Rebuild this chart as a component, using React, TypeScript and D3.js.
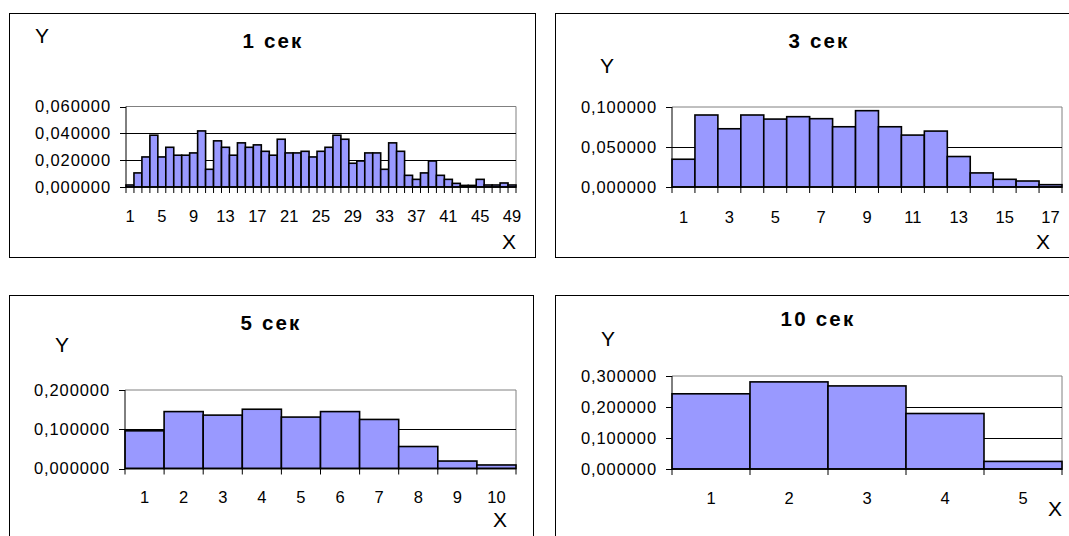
import React from "react";
import * as d3 from "d3";

// ---------- data ----------
const cats1 = [1,2,3,4,5,6,7,8,9,10,11,12,13,14,15,16,17,18,19,20,21,22,23,24,25,26,27,28,29,30,31,32,33,34,35,36,37,38,39,40,41,42,43,44,45,46,47,48,49];
const vals1 = [0.0015,0.0105,0.0224,0.0386,0.0224,0.0296,0.0237,0.0237,0.0254,0.0418,0.0132,0.0344,0.0296,0.0237,0.0329,0.0296,0.0314,0.0266,0.0237,0.0356,0.0254,0.0254,0.0266,0.0224,0.0266,0.0296,0.0386,0.0356,0.0177,0.0194,0.0254,0.0254,0.0132,0.0329,0.0266,0.0087,0.0057,0.0105,0.0194,0.0087,0.0057,0.0027,0.0012,0.0012,0.0057,0.0015,0.0015,0.003,0.0015];
const ticks1 = [0, 0.02, 0.04, 0.06];

const cats2 = [1,2,3,4,5,6,7,8,9,10,11,12,13,14,15,16,17];
const vals2 = [0.0347,0.090,0.0728,0.090,0.0849,0.0879,0.0854,0.0753,0.0954,0.0753,0.0649,0.0699,0.0381,0.0176,0.0096,0.0075,0.0029];
const ticks2 = [0, 0.05, 0.1];

const cats3 = [1,2,3,4,5,6,7,8,9,10];
const vals3 = [0.096,0.145,0.136,0.151,0.131,0.145,0.125,0.056,0.019,0.009];
const ticks3 = [0, 0.1, 0.2];

const cats4 = [1,2,3,4,5];
const vals4 = [0.2426,0.281,0.268,0.179,0.0245];
const ticks4 = [0, 0.1, 0.2, 0.3];

const titles = ["1 сек", "3 сек", "5 сек", "10 сек"];

// ---------- chart ----------
const FONT = "'Liberation Sans', Arial, sans-serif";
const fmt = (v: number) => v.toFixed(6).replace(".", ",");

type ChartProps = {
  frame: [number, number, number, number];
  plot: [number, number, number, number]; // left, right, bottom(y0), top(yMax)
  cats: number[];
  vals: number[];
  ticks: number[];
  labelEvery: number;
  title: string;
  titlePos: [number, number];
  yPos: [number, number];
  xPos: [number, number];
  xLabelY: number;
};

function Chart(p: ChartProps) {
  const [fx, fy, fw, fh] = p.frame;
  const [l, r, b, t] = p.plot;
  const yMax = p.ticks[p.ticks.length - 1];
  const x = d3.scaleBand<number>().domain(p.cats).range([l, r]).padding(0);
  const y = d3.scaleLinear().domain([0, yMax]).range([b, t]);
  const bw = x.bandwidth();
  return (
    <g>
      <rect x={fx + 0.5} y={fy + 0.5} width={fw} height={fh} fill="#fff" stroke="#000" strokeWidth={1} />
      {/* plot border */}
      <line x1={l} x2={r} y1={y(yMax)} y2={y(yMax)} stroke="#808080" strokeWidth={1} />
      <line x1={r} x2={r} y1={y(yMax)} y2={b} stroke="#808080" strokeWidth={1} />
      {/* grid */}
      {p.ticks.slice(1, -1).map((v) => (
        <line key={"g" + v} x1={l} x2={r} y1={Math.round(y(v)) + 0.5} y2={Math.round(y(v)) + 0.5} stroke="#000" strokeWidth={1} />
      ))}
      {/* bars */}
      {p.cats.map((c, i) => (
        <rect key={"b" + c} x={x(c)} y={y(p.vals[i])} width={bw} height={b - y(p.vals[i])} fill="#9999FF" stroke="#000" strokeWidth={1.6} />
      ))}
      {/* y axis */}
      <line x1={l} x2={l} y1={y(yMax)} y2={b} stroke="#000" strokeWidth={1} />
      {p.ticks.map((v) => (
        <g key={"yt" + v}>
          <line x1={l - 6} x2={l} y1={Math.round(y(v)) + 0.5} y2={Math.round(y(v)) + 0.5} stroke="#000" strokeWidth={1} />
          <text x={l - 15} y={y(v) + 5.5} textAnchor="end" fontFamily={FONT} fontSize={16.5} letterSpacing={0.9} fill="#000">{fmt(v)}</text>
        </g>
      ))}
      {/* x axis */}
      <line x1={l} x2={r} y1={b} y2={b} stroke="#000" strokeWidth={1.5} />
      {p.cats.concat([p.cats.length + 1]).map((c, i) => {
        const xx = l + i * bw;
        return <line key={"xt" + i} x1={xx} x2={xx} y1={b} y2={b + 6} stroke="#000" strokeWidth={1} />;
      })}
      {p.cats.map((c, i) =>
        i % p.labelEvery === 0 ? (
          <text key={"xl" + c} x={(x(c) as number) + bw / 2} y={p.xLabelY} textAnchor="middle" fontFamily={FONT} fontSize={16.5} fill="#000">{c}</text>
        ) : null
      )}
      <text x={p.titlePos[0]} y={p.titlePos[1]} textAnchor="middle" fontFamily={FONT} fontSize={20.5} fontWeight="bold" letterSpacing={2.2} fill="#000">{p.title}</text>
      <text x={p.yPos[0]} y={p.yPos[1]} textAnchor="middle" fontFamily={FONT} fontSize={21} fill="#000">Y</text>
      <text x={p.xPos[0]} y={p.xPos[1]} textAnchor="middle" fontFamily={FONT} fontSize={21} fill="#000">X</text>
    </g>
  );
}

export default function App() {
  return (
    <svg width={1069} height={536} style={{ position: "absolute", left: 0, top: 0, background: "#fff" }}>
      <rect x={0} y={0} width={1069} height={536} fill="#fff" />
      <Chart frame={[9, 13, 526, 244]} plot={[126, 516, 187, 106.5]} cats={cats1} vals={vals1} ticks={ticks1} labelEvery={4}
        title={titles[0]} titlePos={[273, 48]} yPos={[42, 43]} xPos={[509, 249]} xLabelY={222} />
      <Chart frame={[555, 13, 520, 244]} plot={[672, 1062, 187, 107]} cats={cats2} vals={vals2} ticks={ticks2} labelEvery={2}
        title={titles[1]} titlePos={[819, 48]} yPos={[607, 73]} xPos={[1043, 249]} xLabelY={223} />
      <Chart frame={[9, 295, 524, 250]} plot={[125, 516, 468.5, 390]} cats={cats3} vals={vals3} ticks={ticks3} labelEvery={1}
        title={titles[2]} titlePos={[271, 330]} yPos={[62, 352]} xPos={[500, 527]} xLabelY={503} />
      <Chart frame={[555, 295, 520, 250]} plot={[672, 1062, 469, 376]} cats={cats4} vals={vals4} ticks={ticks4} labelEvery={1}
        title={titles[3]} titlePos={[818, 326]} yPos={[608, 346]} xPos={[1055, 516]} xLabelY={504} />
    </svg>
  );
}
